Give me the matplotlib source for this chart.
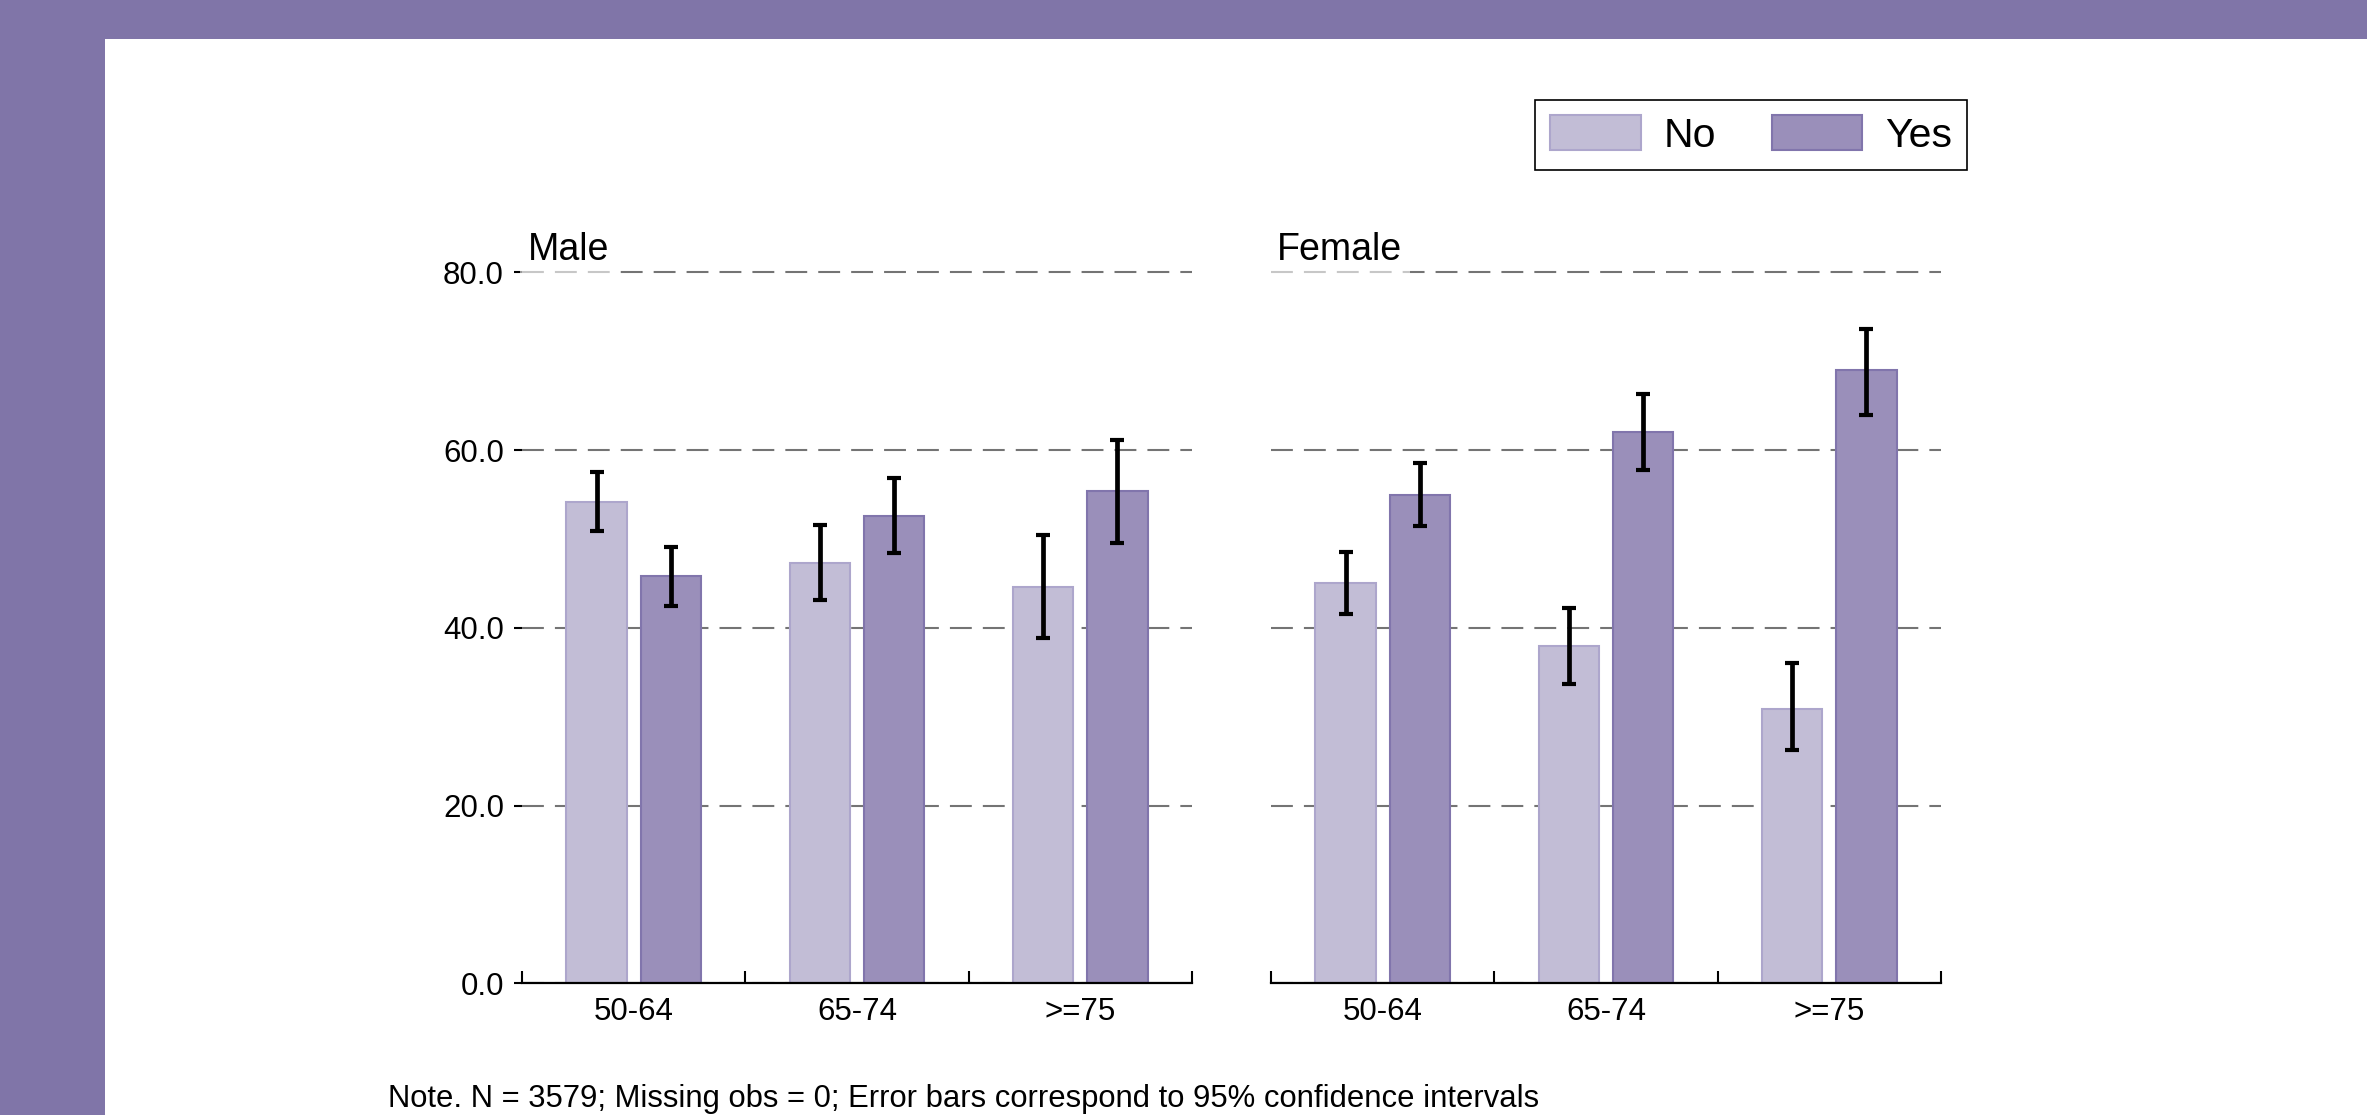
import matplotlib
matplotlib.use("Agg")
import matplotlib.pyplot as plt
import numpy as np
from matplotlib.patches import Rectangle

plt.rcParams['font.family'] = ['Liberation Sans', 'DejaVu Sans']

# Data: percentages with 95% confidence limits
age_groups = ["50-64", "65-74", ">=75"]
panels = ["Male", "Female"]
series = ["No", "Yes"]

male_no = [54.2, 47.3, 44.6]
male_no_lo = [50.9, 43.1, 38.9]
male_no_hi = [57.5, 51.6, 50.4]
male_yes = [45.8, 52.6, 55.4]
male_yes_lo = [42.5, 48.4, 49.5]
male_yes_hi = [49.1, 56.8, 61.1]

female_no = [45.0, 38.0, 30.9]
female_no_lo = [41.5, 33.7, 26.3]
female_no_hi = [48.5, 42.2, 36.0]
female_yes = [54.9, 62.0, 69.0]
female_yes_lo = [51.5, 57.7, 63.9]
female_yes_hi = [58.5, 66.3, 73.6]

y_ticks = [0, 20, 40, 60, 80]
y_tick_labels = ["0.0", "20.0", "40.0", "60.0", "80.0"]
note = "Note. N = 3579; Missing obs = 0; Error bars correspond to 95% confidence intervals"

# Styling
W, H = 2367, 1115
frame_col = "#8075A8"
no_face, no_edge = "#C2BDD6", "#ADA6CC"
yes_face, yes_edge = "#9A8FBA", "#8175AC"
grid_col = "#747474"

fig = plt.figure(figsize=(W / 100, H / 100), dpi=100)
fig.patch.set_facecolor("white")

# Purple border along top and left
fig.patches.append(Rectangle((0, 1 - 39 / H), 1, 39 / H, transform=fig.transFigure,
                             facecolor=frame_col, edgecolor="none", zorder=0))
fig.patches.append(Rectangle((0, 0), 105 / W, 1, transform=fig.transFigure,
                             facecolor=frame_col, edgecolor="none", zorder=0))

panel_data = {
    "Male": (male_no, male_no_lo, male_no_hi, male_yes, male_yes_lo, male_yes_hi),
    "Female": (female_no, female_no_lo, female_no_hi, female_yes, female_yes_lo, female_yes_hi),
}

# Axes geometry (pixels): baseline at y=983.3, 8.8875 px per unit
y_top = 80.6
px_per_unit = 8.8875
ax_bottom = (H - 983.3) / H
ax_height = px_per_unit * y_top / H
ax_width = 670 / W
ax_lefts = {"Male": 522 / W, "Female": 1271 / W}

x = np.arange(len(age_groups))
bw = 0.27
off = 0.166

axes = {}
for name in panels:
    no, no_lo, no_hi, yes, yes_lo, yes_hi = [np.array(v) for v in panel_data[name]]
    ax = fig.add_axes([ax_lefts[name], ax_bottom, ax_width, ax_height])
    axes[name] = ax
    ax.set_facecolor("none")

    ax.bar(x - off, no, bw, color=no_face, edgecolor=no_edge, linewidth=1.5,
           zorder=2, label=series[0])
    ax.bar(x + off, yes, bw, color=yes_face, edgecolor=yes_edge, linewidth=1.5,
           zorder=2, label=series[1])
    ax.errorbar(x - off, no, yerr=[no - no_lo, no_hi - no], fmt="none", ecolor="black",
                elinewidth=3.4, capsize=4.9, capthick=3.0, zorder=3)
    ax.errorbar(x + off, yes, yerr=[yes - yes_lo, yes_hi - yes], fmt="none", ecolor="black",
                elinewidth=3.4, capsize=4.9, capthick=3.0, zorder=3)

    ax.set_xlim(-0.5, 2.5)
    ax.set_ylim(0, y_top)
    ax.set_axisbelow(True)
    ax.yaxis.grid(True, linestyle=(0, (10.5, 5.3)), linewidth=1.5, color=grid_col)
    ax.xaxis.grid(False)

    for s in ("left", "right", "top"):
        ax.spines[s].set_visible(False)
    ax.spines["bottom"].set_linewidth(1.6)
    ax.spines["bottom"].set_color("black")

    ax.set_xticks(x, age_groups)
    ax.set_xticks([-0.5, 0.5, 1.5, 2.5], minor=True)
    ax.tick_params(axis="x", which="major", length=0, pad=10, labelsize=22.5)
    ax.tick_params(axis="x", which="minor", direction="in", length=8.6, width=1.5)

    ax.set_yticks(y_ticks, y_tick_labels)
    if name == "Male":
        ax.tick_params(axis="y", length=6, width=1.5, pad=7, labelsize=22.5)
    else:
        ax.tick_params(axis="y", length=0, labelleft=False)

    # Panel title sits just above the 80 line; its translucent box fades the line beneath
    ax.text(6 / 670, 81.4, name, transform=ax.get_yaxis_transform(), fontsize=27,
            ha="left", va="baseline", zorder=5, clip_on=False,
            bbox=dict(facecolor="white", edgecolor="none", alpha=0.6,
                      boxstyle="square,pad=0.22"))

handles, labels = axes["Male"].get_legend_handles_labels()
leg = fig.legend(handles, labels, loc="upper right",
                 bbox_to_anchor=(1967 / W, 1 - 100 / H),
                 bbox_transform=fig.transFigure, ncol=2, fontsize=29.5,
                 frameon=True, fancybox=False, framealpha=1, edgecolor="black",
                 handlelength=2.21, handleheight=0.95, handletextpad=0.55,
                 columnspacing=1.36, borderpad=0.37, borderaxespad=0)
leg.get_frame().set_linewidth(1.2)

fig.text(388 / W, 8 / H, note, fontsize=22.3, ha="left", va="baseline")

fig.savefig("out.png", dpi=100, facecolor=fig.get_facecolor())
